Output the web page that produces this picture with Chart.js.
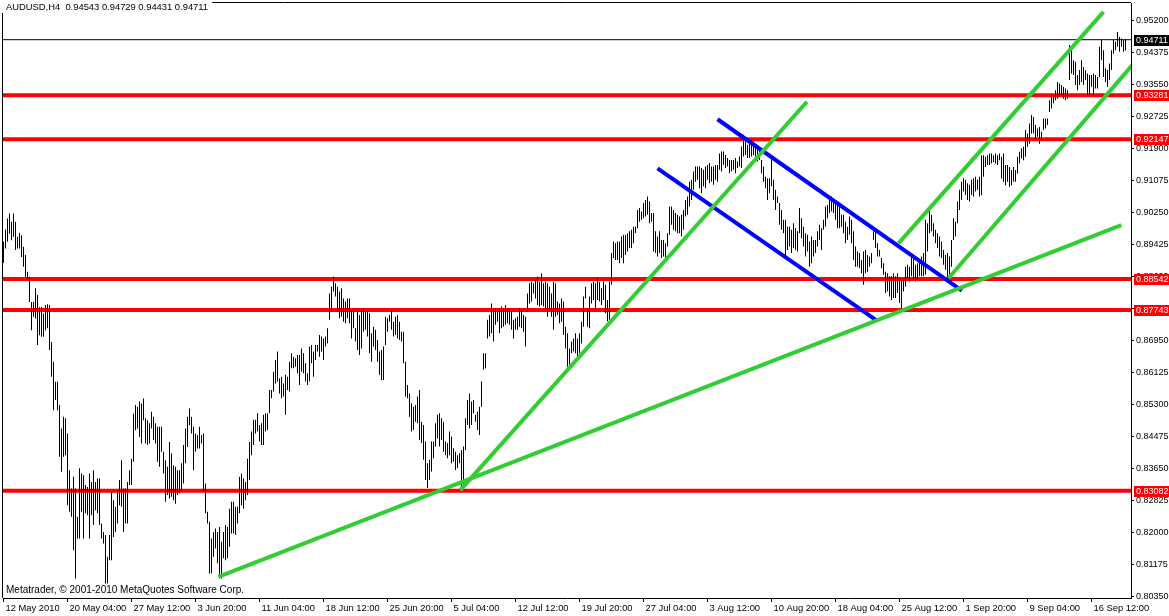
<!DOCTYPE html>
<html><head><meta charset="utf-8">
<script src="https://cdn.jsdelivr.net/npm/chart.js@4/dist/chart.umd.min.js"></script>
<style>html,body{margin:0;padding:0;background:#fff;}canvas{display:block;}</style>
</head><body>
<canvas id="c" width="1169" height="616"></canvas>
<script>
// ---- data (prices in pips: 8950 = 0.8950) ----
const symbolTitle = 'AUDUSD,H4  0.94543 0.94729 0.94431 0.94711';
const copyright = 'Metatrader, \u00A9 2001-2010 MetaQuotes Software Corp.';

const barHighPips = [
8950,8982,9010,9023,9002,9023,9002,8963,8973,8967,
8937,8916,8873,8860,8795,8795,8830,8813,8782,8782,
8765,8787,8789,8787,8692,8641,8589,8589,8529,8469,
8499,8495,8456,8361,8314,8344,8314,8241,8366,8353,
8348,8323,8318,8353,8331,8361,8331,8340,8340,8224,
8202,8194,8138,8194,8305,8284,8267,8310,8336,8387,
8314,8314,8331,8361,8391,8507,8529,8525,8538,8533,
8546,8495,8490,8482,8512,8499,8482,8473,8473,8473,
8409,8387,8370,8434,8404,8374,8370,8361,8361,8379,
8426,8469,8499,8520,8499,8473,8456,8452,8473,8452,
8456,8327,8254,8228,8185,8202,8211,8202,8215,8177,
8202,8220,8215,8262,8280,8280,8267,8267,8344,8353,
8340,8331,8391,8434,
8461,8491,8491,8508,8478,8482,8504,8508,8508,8568,
8568,8615,8645,8667,8598,8602,8585,8607,8602,8641,
8663,8654,8650,8658,8658,8675,8663,8637,8611,8680,
8684,8667,8684,8684,8710,8706,8701,8706,8727,8817,
8834,8860,8843,8834,8822,8830,8804,8796,8804,8804,
8774,8770,8727,8770,8761,8774,8779,8770,8770,8766,
8714,8731,8723,8697,8667,8671,8680,8757,8753,8761,
8774,8744,8757,8761,8744,8718,8718,8641,8581,8559,
8534,8525,8529,8551,8568,8486,8478,8435,8379,8388,
8435,8435,8482,8504,8508,8495,8486,8435,8431,8461,
8448,8418,8409,8400,8405,8413,8422,8495,8542,8559,
8538,8542,8504,8512,8525,8590,8663,8663,8749,8761,
8791,8779,8779,8770,8779,8783,8779,8787,8779,8779,
8770,8749,8753,8757,8779,8774,8761,8757,8817,8843,
8847,8843,8852,8860,8847,8869,8843,8847,8843,8834,
8817,8847,8843,8796,8791,8804,8796,8731,8714,8675,
8693,8701,8714,8701,8714,8744,8809,8834,8779,8809,
8843,8847,8843,8856,8847,
8830,8848,8839,8800,8848,8921,8951,8946,8951,8951,
8964,8968,8968,8972,8977,8981,8989,8989,9032,9037,
9028,9050,9058,9067,9054,9024,9024,8977,8964,8977,
8955,8955,8946,8972,9041,9041,9032,9024,9020,9015,
9020,9032,9058,9067,9105,9110,9131,9144,9144,9144,
9140,9136,9144,9148,9153,9144,9144,9148,9148,9178,
9183,9183,9174,9166,9161,9161,9161,9166,9157,9170,
9196,9226,9217,9200,9204,9213,9209,9200,9191,9187,
9161,9144,9118,9114,9114,9170,9110,9084,9067,9050,
9032,9007,9007,8989,8989,8981,8998,8985,8977,9037,
9011,8989,8972,8968,8951,8964,8955,8955,8977,8994,
8985,9007,9041,9045,9067,9067,9058,9054,9050,9041,
9020,9020,9002,8989,9015,9007,8977,8938,8925,8921,
8903,8925,8929,8916,8912,8921,8977,8985,8946,8929,
8908,8895,8873,8869,8861,8861,8869,8861,8869,8856,
8852,8852,8886,8891,8886,8912,8916,8891,8895,8903,
8912,8921,9007,8998,9032,9020,8998,8981,8972,8964,
8951,8929,8916,8921,8912,8955,9011,9002,9054,9084,
9105,9114,9110,9101,9097,9110,9114,9118,9110,9118,
9173,9173,9169,9173,9178,9178,9173,9178,9173,9178,
9169,9178,9148,9148,9143,9135,9143,9135,9169,9182,
9191,9195,9238,9229,9255,9277,9272,9251,9242,9246,
9234,9268,9268,9268,9315,9328,9328,9341,9362,9358,
9354,9350,9345,9341,9457,9448,9418,9414,9380,9393,
9418,9401,9393,9384,9380,9380,9384,9380,9375,9453,
9470,9444,9397,9393,9410,9444,9470,9466,9491,9478,
9474,9470,9473
];

const barLowPips = [
8896,8933,8950,8971,8954,8963,8929,8933,8933,8911,
8886,8860,8851,8795,8722,8757,8752,8684,8709,8705,
8705,8722,8727,8671,8602,8516,8542,8516,8396,8357,
8396,8400,8271,8254,8241,8155,8082,8185,8185,8254,
8185,8250,8245,8185,8245,8220,8258,8250,8220,8185,
8172,8069,8069,8129,8129,8189,8202,8224,8271,8267,
8202,8224,8224,8323,8323,8383,8464,8469,8447,8430,
8490,8430,8426,8430,8469,8439,8430,8383,8370,8409,
8353,8280,8297,8288,8293,8284,8275,8297,8301,8310,
8327,8379,8421,8477,8456,8361,8409,8417,8417,8430,
8305,8250,8224,8095,8095,8138,8159,8121,8082,8082,
8134,8129,8134,8164,8198,8198,8194,8224,8250,8271,
8262,8284,8297,8336,
8400,8426,8456,8461,8435,8426,8426,8461,8465,8508,
8547,8564,8585,8590,8559,8547,8551,8504,8568,8564,
8624,8624,8628,8611,8581,8615,8611,8590,8581,8590,
8637,8602,8645,8667,8654,8667,8645,8680,8688,8749,
8770,8822,8809,8770,8753,8757,8744,8740,8753,8740,
8701,8727,8693,8671,8658,8675,8718,8723,8706,8663,
8641,8680,8671,8641,8607,8594,8594,8684,8718,8744,
8723,8706,8710,8701,8697,8693,8637,8551,8547,8499,
8461,8465,8486,8482,8439,8431,8388,8336,8315,8336,
8358,8392,8422,8443,8422,8439,8409,8400,8392,8400,
8379,8383,8362,8366,8379,8315,8323,8413,8478,8469,
8478,8508,8486,8465,8452,8525,8620,8624,8701,8706,
8714,8693,8736,8744,8714,8727,8731,8736,8740,8736,
8723,8701,8723,8723,8731,8727,8718,8680,8770,8791,
8796,8817,8804,8787,8783,8787,8783,8779,8757,8774,
8757,8723,8757,8761,8740,8744,8710,8675,8628,8633,
8663,8667,8663,8654,8663,8688,8731,8804,8731,8727,
8791,8800,8774,8800,8796,
8787,8800,8766,8745,8749,8839,8908,8903,8903,8895,
8908,8895,8916,8925,8934,8934,8946,8972,8985,9002,
9007,9011,9015,9020,8998,9002,8925,8921,8912,8921,
8908,8912,8903,8938,8968,8994,8981,8977,8972,8972,
8964,8981,9015,9020,9041,9058,9084,9105,9110,9088,
9075,9093,9088,9110,9101,9105,9097,9110,9105,9136,
9131,9148,9140,9144,9127,9131,9136,9127,9140,9144,
9140,9170,9174,9166,9166,9170,9174,9170,9157,9161,
9127,9105,9088,9058,9075,9093,9058,9032,9050,8994,
8981,8972,8916,8929,8938,8921,8934,8929,8925,8972,
8959,8938,8912,8925,8886,8895,8912,8921,8938,8955,
8929,8981,8989,9011,9024,9028,9024,9007,8985,8985,
8989,8972,8946,8955,8968,8946,8903,8886,8886,8882,
8869,8839,8869,8873,8886,8895,8955,8934,8912,8912,
8882,8865,8818,8822,8809,8800,8805,8805,8818,8792,
8770,8822,8835,8856,8848,8861,8852,8848,8852,8861,
8861,8861,8865,8925,8972,8977,8964,8946,8934,8912,
8908,8891,8878,8852,8861,8886,8955,8964,8998,9032,
9058,9080,9071,9058,9054,9071,9067,9080,9084,9067,
9070,9118,9143,9148,9148,9152,9156,9152,9148,9160,
9113,9105,9096,9105,9092,9096,9105,9105,9126,9152,
9165,9160,9169,9195,9203,9229,9229,9216,9221,9203,
9212,9238,9242,9251,9285,9294,9307,9315,9319,9324,
9328,9319,9315,9319,9367,9384,9380,9354,9341,9354,
9362,9354,9367,9328,9328,9350,9328,9345,9345,9375,
9418,9375,9362,9350,9367,9393,9435,9444,9453,9440,
9453,9440,9443
];

const timeLabels = ['12 May 2010','20 May 04:00','27 May 12:00','3 Jun 20:00','11 Jun 04:00','18 Jun 12:00','25 Jun 20:00','5 Jul 04:00','12 Jul 12:00','19 Jul 20:00','27 Jul 04:00','3 Aug 12:00','10 Aug 20:00','18 Aug 04:00','25 Aug 12:00','1 Sep 20:00','9 Sep 04:00','16 Sep 12:00'];
const timeLabelEvery = 32; // bars between time labels

const priceTicks = [0.95200,0.94375,0.93550,0.92725,0.91900,0.91075,0.90250,0.89425,0.88600,0.87775,0.86950,0.86125,0.85300,0.84475,0.83650,0.82825,0.82000,0.81175,0.80350];

const levelPrices = [0.93281,0.92147,0.88542,0.87743,0.83082];
const bidPrice = 0.94711;

// trend lines: [bar1, price1, bar2, price2]
const greenTrendLines = [
  [108.4,0.80860,559.9,0.89930],
  [229.4,0.83100,402.7,0.93110],
  [448.5,0.89460,551.0,0.95430],
  [473.5,0.88560,566.0,0.94090]
];
const blueTrendLines = [
  [358.0,0.92660,480.2,0.88240],
  [328.0,0.91395,437.7,0.87466]
];

// ---- view ----
const xMin = 0.75, xMax = 564.75;
const yMin = 0.80317, yMax = 0.95657;
const FONT = 'Liberation Sans';

const barData = barHighPips.map((h,i)=>({x:i+1, y:[barLowPips[i]/10000, h/10000]}));

const datasets = [];
levelPrices.forEach(p=>datasets.push({type:'line', data:[{x:xMin,y:p},{x:xMax,y:p}], borderColor:'#ff0000', borderWidth:4, pointRadius:0, order:6, clip:0}));
datasets.push({type:'line', data:[{x:xMin,y:bidPrice},{x:xMax,y:bidPrice}], borderColor:'#000000', borderWidth:1, pointRadius:0, order:5, clip:0});
datasets.push({type:'bar', data:barData, backgroundColor:'#000000', borderWidth:0, barThickness:1, inflateAmount:0, order:4});
blueTrendLines.forEach(l=>datasets.push({type:'line', data:[{x:l[0],y:l[1]},{x:l[2],y:l[3]}], borderColor:'#0000ff', borderWidth:4, pointRadius:0, order:3, clip:0}));
greenTrendLines.forEach(l=>datasets.push({type:'line', data:[{x:l[0],y:l[1]},{x:l[2],y:l[3]}], borderColor:'#32cd32', borderWidth:4, pointRadius:0, order:2, clip:0}));

const overlay = {
  id:'overlay',
  afterDraw(chart){
    const ctx = chart.ctx, a = chart.chartArea, ys = chart.scales.y;
    ctx.save();
    ctx.strokeStyle = '#000'; ctx.lineWidth = 1;
    ctx.beginPath();
    ctx.moveTo(a.left-0.5, a.bottom); ctx.lineTo(a.left-0.5, a.top-0.5); ctx.lineTo(a.right, a.top-0.5);
    ctx.stroke();
    ctx.textBaseline = 'middle';
    // header
    ctx.font = '9.4px "' + FONT + '"';
    const tw = ctx.measureText(symbolTitle).width;
    ctx.fillStyle = '#fff'; ctx.fillRect(0,0,tw+10,13);
    ctx.fillStyle = '#000'; ctx.fillText(symbolTitle, 6, 7.5);
    // copyright
    ctx.font = '10px "' + FONT + '"';
    ctx.fillText(copyright, 6, 590);
    // price labels
    ctx.font = '9px "' + FONT + '"';
    const box = (p, bg) => {
      const y = Math.round(ys.getPixelForValue(p));
      ctx.fillStyle = bg; ctx.fillRect(a.right+3, y-5, 38, 11);
      ctx.fillStyle = '#fff'; ctx.fillText(p.toFixed(5), a.right+5, y+0.5);
    };
    levelPrices.forEach(p=>box(p,'#ff0000'));
    box(bidPrice,'#000000');
    ctx.restore();
  }
};

new Chart(document.getElementById('c'), {
  type:'bar',
  data:{datasets},
  options:{
    responsive:false, animation:false, devicePixelRatio:1,
    layout:{padding:{left:3,top:3,right:0,bottom:0}},
    plugins:{legend:{display:false}, tooltip:{enabled:false}},
    events:[],
    scales:{
      x:{type:'linear', min:xMin, max:xMax, offset:false, position:'bottom',
        grid:{drawOnChartArea:false, drawTicks:true, tickLength:4, color:'#000', offset:false},
        border:{display:true, color:'#000', width:1},
        ticks:{autoSkip:false, maxRotation:0, minRotation:0, align:'start', labelOffset:2, padding:1, color:'#000', font:{family:FONT, size:9.4},
          callback:(v,i)=>timeLabels[i]},
        afterBuildTicks:s=>{s.ticks = timeLabels.map((_,i)=>({value:1+i*timeLabelEvery}));},
        afterFit:s=>{s.height=18; s.paddingLeft=0; s.paddingRight=0;}
      },
      y:{type:'linear', position:'right', min:yMin, max:yMax,
        grid:{drawOnChartArea:false, drawTicks:true, tickLength:3, color:'#000'},
        border:{display:true, color:'#000', width:1},
        ticks:{padding:2, color:'#000', crossAlign:'near', font:{family:FONT, size:9}, callback:v=>v.toFixed(5)},
        afterBuildTicks:s=>{s.ticks = priceTicks.map(v=>({value:v}));},
        afterFit:s=>{s.width=38; s.paddingTop=0; s.paddingBottom=0;}
      }
    }
  },
  plugins:[overlay]
});
</script>
</body></html>
